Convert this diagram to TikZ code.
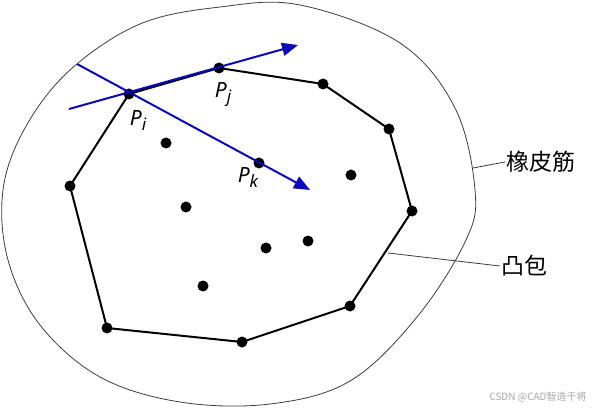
\documentclass[tikz,border=0pt]{standalone}
\usepackage{fontspec}
\setmainfont{Noto Sans}
\newfontfamily\cjk{Noto Sans CJK SC}
\usetikzlibrary{arrows.meta}
\definecolor{vecblue}{RGB}{10,10,185}
\definecolor{bandgray}{RGB}{60,60,60}
\newcommand{\plabel}[1]{\fontsize{21}{25}\selectfont\itshape P\raisebox{-5pt}{\fontsize{17}{17}\selectfont #1}}
\begin{document}
\begin{tikzpicture}[x=1pt,y=-1pt,
  dot/.style={circle,fill=black,inner sep=0pt,minimum size=11pt},
  hull/.style={line width=2pt,black},
  vec/.style={line width=2pt,vecblue,-{Triangle[length=16pt,width=13pt]}},
  band/.style={line width=0.8pt,bandgray},
  leader/.style={line width=0.8pt,bandgray},
  cn/.style={font=\cjk\fontsize{23}{26}\selectfont,inner sep=1pt},
  plab/.style={inner sep=0pt}]
\useasboundingbox (0,0) rectangle (600,409);
% rubber band
\draw[band] plot[smooth cycle,tension=0.6] coordinates {
 (300,5) (400,43) (455,108) (475,190) (466,240) (417,317) (350,381)
 (270,404) (180,402) (100,377) (40,325) (8,260) (3,190) (25,128)
 (70,70) (140,24) (220,7)};
% hull points
\node[dot] (pj) at (219,68) {};
\node[dot] (h2) at (323,84) {};
\node[dot] (h3) at (389,129) {};
\node[dot] (h4) at (412,211) {};
\node[dot] (h5) at (350,306) {};
\node[dot] (h6) at (242,342) {};
\node[dot] (h7) at (107,328) {};
\node[dot] (h8) at (70,186) {};
\node[dot] (pi) at (129,94) {};
% interior points
\node[dot] (pk) at (259,163) {};
\node[dot] (q1) at (166,143) {};
\node[dot] (q2) at (186,207) {};
\node[dot] (q3) at (266,248) {};
\node[dot] (q4) at (308,241) {};
\node[dot] (q5) at (203,286) {};
\node[dot] (q6) at (351,175) {};
% hull edges
\draw[hull] (pi.center) -- (pj.center) -- (h2.center) -- (h3.center) -- (h4.center)
  -- (h5.center) -- (h6.center) -- (h7.center) -- (h8.center) -- (pi.center);
% vectors
\coordinate (s1) at (69,109);
\coordinate (t1) at (298,45);
\coordinate (s2) at (77,64);
\coordinate (t2) at (310,190);
\draw[vec] (s1) -- (t1);
\draw[vec] (s2) -- (t2);
% point labels
\node[plab] (lpi) at (138,121) {\plabel{i}};
\node[plab] (lpj) at (223,95) {\plabel{j}};
\node[plab] (lpk) at (248,178) {\plabel{k}};
% labels
\node[cn,anchor=west] (lband) at (505,162) {橡皮筋};
\node[cn,anchor=west] (lhull) at (500,266) {凸包};
\coordinate (cband) at (473,168);
\coordinate (chull) at (388,253);
\draw[leader] (cband) -- (lband.west);
\draw[leader] (chull) -- (lhull.west);
% watermark
\node[font=\cjk\fontsize{10}{12}\selectfont,text=black!35,inner sep=0pt] (wm) at (538,397) {CSDN @CAD智造千将};
\end{tikzpicture}
\end{document}
